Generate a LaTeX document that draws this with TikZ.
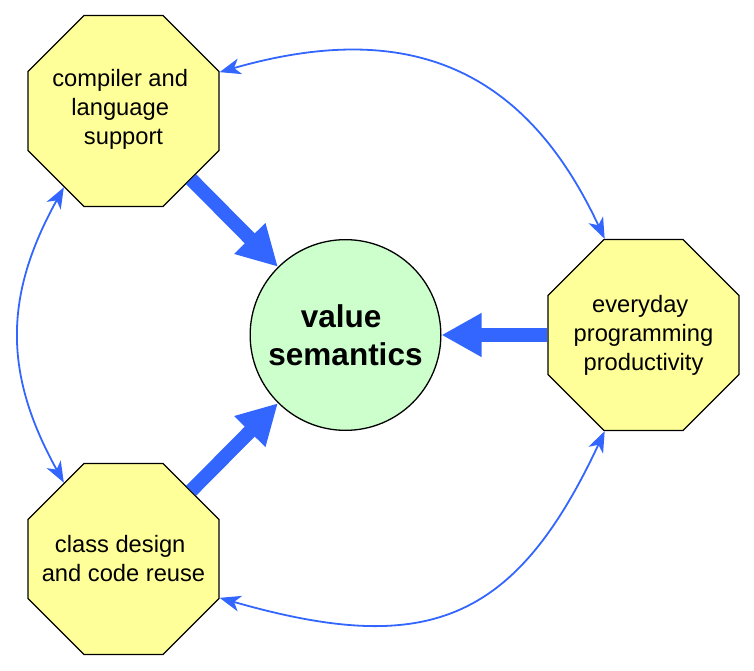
\documentclass[tikz,border=0pt]{standalone}
\usepackage{fontspec}
\setmainfont{Liberation Sans}
\usetikzlibrary{shapes.geometric,arrows.meta}
\definecolor{octfill}{HTML}{FFFF99}
\definecolor{vsfill}{HTML}{CCFFCC}
\definecolor{arrowblue}{HTML}{3366FF}
\newcommand\trailsp{\kern.278em}
\begin{document}
\begin{tikzpicture}[x=1pt,y=1pt,
  octbox/.style={regular polygon, regular polygon sides=8, minimum size=206.7pt,
    inner sep=0pt, draw=black, line width=1.3pt, fill=octfill},
  octtext/.style={inner sep=0pt, align=center,
    font=\fontsize{23.7}{29}\selectfont},
  vsbox/.style={circle, minimum size=190.7pt, inner sep=0pt, draw=black,
    line width=1.3pt, fill=vsfill, align=center,
    font=\fontsize{31.5}{37.5}\selectfont\bfseries},
  bigarrow/.style={draw=arrowblue, line width=14pt,
    -{Triangle[length=40pt,width=41pt]}},
  linkarrow/.style={draw=arrowblue, line width=1.8pt,
    {Stealth[length=21pt,width=16pt,inset=6pt]}-{Stealth[length=21pt,width=16pt,inset=6pt]}}
]
\useasboundingbox (0,0) rectangle (754,670);

\node[octbox] (tl) at (123.5,559) {};
\node[octtext] (tltext) at ([yshift=1.5pt]tl.center) {compiler and\trailsp\\language\trailsp\\support};
\node[octbox] (bl) at (123.5,111) {};
\node[octtext] (bltext) at (bl.center) {class design\trailsp\\and code reuse};
\node[octbox] (r)  at (643.5,335) {};
\node[octtext] (rtext) at (r.center) {everyday\trailsp\\programming\\productivity};
\node[vsbox]  (vs) at (345.5,335) {value\trailsp\\semantics};

\draw[bigarrow] (tl) -- (vs);
\draw[bigarrow] (bl) -- (vs);
\draw[bigarrow] (r) -- (vs);

\draw[linkarrow] (tl.22.5) to[out=16,in=115,looseness=1.17] (r.112.5);
\draw[linkarrow] (tl.232) to[out=241,in=119,looseness=1.08] (bl.128);
\draw[linkarrow] (bl.-22.5) to[out=-16,in=-115,looseness=1.3] (r.-112.5);
\end{tikzpicture}
\end{document}
